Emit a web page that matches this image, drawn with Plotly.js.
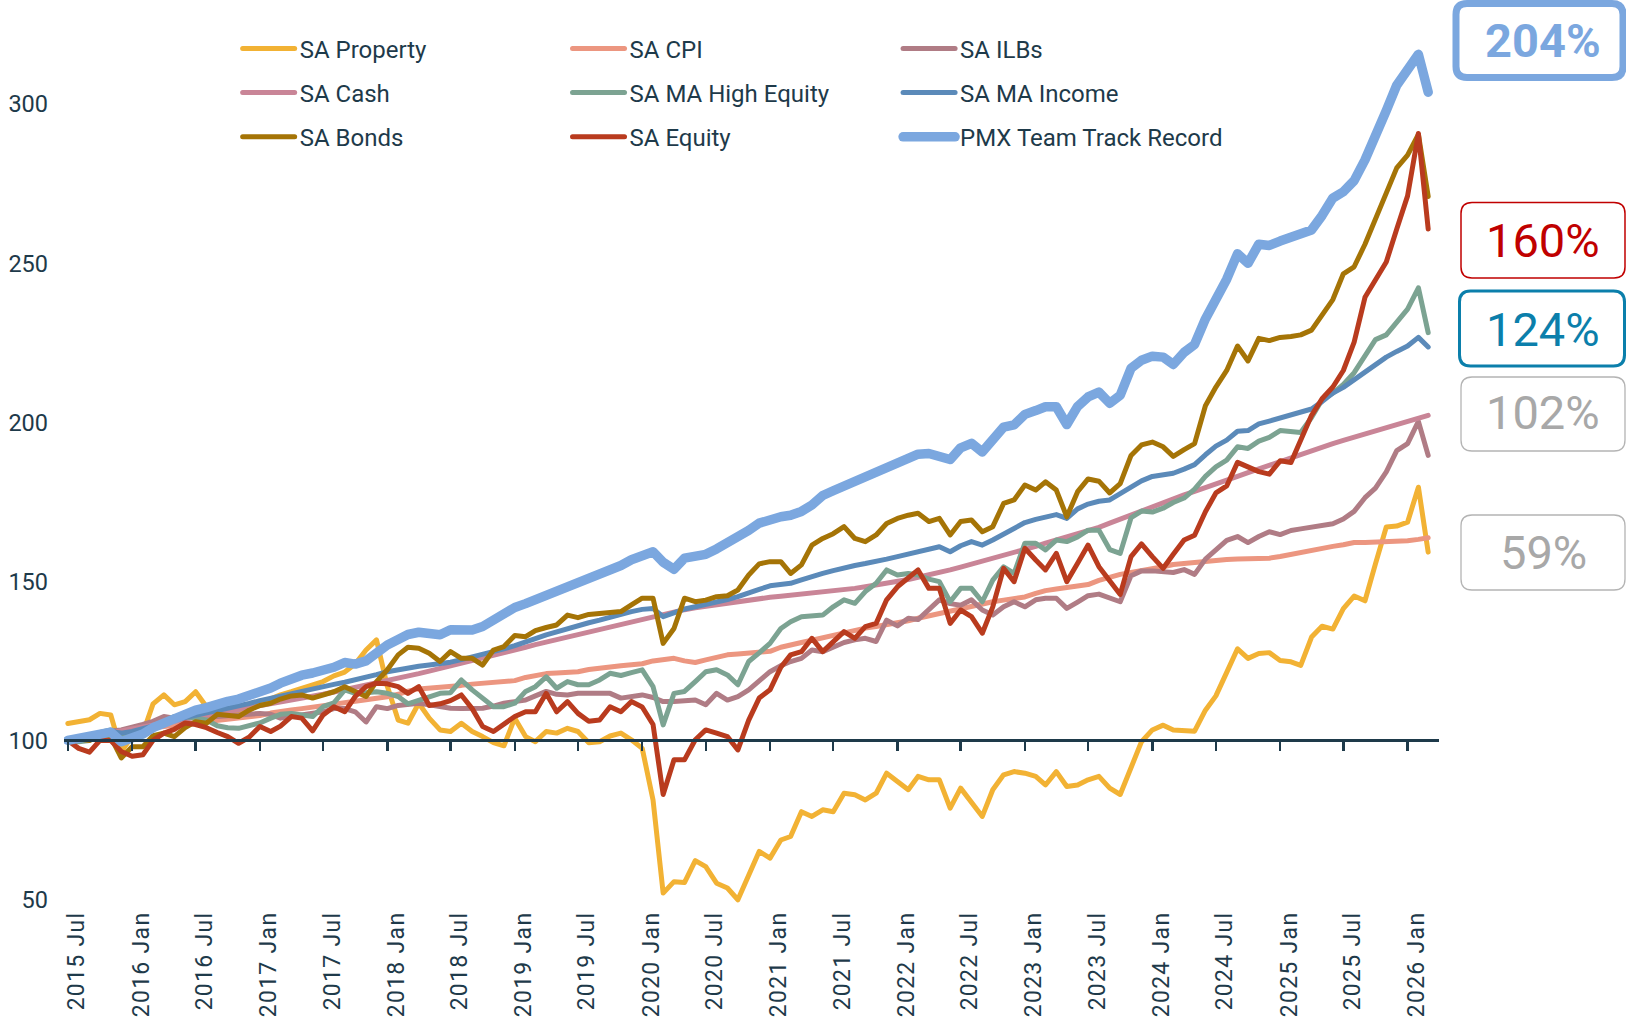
<!DOCTYPE html>
<html>
<head>
<meta charset="utf-8">
<script src="https://cdn.plot.ly/plotly-3.0.1.min.js"></script>
<style>
  html, body { margin: 0; padding: 0; background: #ffffff; }
  #chart { width: 1626px; height: 1017px; }
  .js-line { stroke-linejoin: round; stroke-linecap: round; }
  .xtick text, text.xtick { letter-spacing: 1.3px; }
</style>
</head>
<body>
<div id="chart"></div>
<script>
// ---- categories: monthly index points, 2015 Jul .. 2026 Mar ----
const START_YEAR = 2015, START_MONTH = 7, N_MONTHS = 129;
const months = [];
for (let k = 0; k < N_MONTHS; k++) {
  const m = START_MONTH - 1 + k;
  const y = START_YEAR + Math.floor(m / 12);
  const mm = (m % 12) + 1;
  months.push(y + '-' + String(mm).padStart(2, '0') + '-01');
}

// ---- series values (index, start = 100) ----
const saProperty = [
  105.3, 105.8, 106.5, 108.5, 108, 96.5, 101.2, 102.3, 111.5, 114.3, 111.2, 112.2,
  115.3, 110.6, 107.5, 108.2, 109, 110.3, 111.8, 113, 114.3, 115.3, 116.4, 117.4,
  118.5, 120.3, 121.5, 124, 128.4, 131.6, 117, 106.4, 105.4, 111.7, 107, 103.3,
  102.8, 105.4, 102.8, 101.2, 99.3, 98.3, 107, 101.2, 99.6, 102.8, 102.3, 103.8,
  102.8, 99.3, 99.6, 101.4, 102.3, 100.2, 97.5, 81.3, 52, 55.6, 55.3, 62.2,
  60.3, 55.1, 53.6, 49.9, 57.2, 65.1, 63, 68.7, 69.8, 77.6, 76.1, 78.2,
  77.6, 83.4, 82.9, 81.3, 83.4, 89.7, 87.1, 84.5, 88.7, 87.6, 87.6, 78.7,
  85, 80.8, 76.1, 84.5, 89.2, 90.2, 89.7, 88.7, 86, 90.2, 85.5, 86,
  87.6, 88.7, 85, 83, 91.7, 99.6, 103.3, 104.8, 103.3, 102.9, 102.9, 109.5,
  114, 121.4, 128.8, 125.8, 127.3, 127.6, 125.1, 124.7, 123.6, 132.5, 135.9, 135,
  141.4, 145.4, 143.9, 155.5, 167.1, 167.4, 168.6, 179.6, 159.2
];
const saCPI = [
  100, 100.5, 100.9, 101.3, 101.8, 102.2, 102.6, 103.4, 104, 104.4, 104.8, 105.1,
  105.5, 105.9, 106.4, 106.8, 107.1, 107.4, 107.8, 108.6, 109.2, 109.6, 110, 110.4,
  111, 111.4, 111.8, 112.3, 112.8, 113.2, 113.7, 114.5, 115.5, 116.2, 116.4, 116.6,
  116.8, 117.3, 117.7, 118, 118.3, 118.5, 118.8, 119.8, 120.5, 121, 121.2, 121.4,
  121.6, 122.3, 122.8, 123.2, 123.5, 123.8, 124.1, 125, 125.5, 125.8, 125, 124.5,
  125.3, 126.3, 126.9, 127.2, 127.5, 127.7, 128, 129.3, 130.2, 130.8, 131.5, 132.3,
  133, 134, 134.8, 135.3, 135.8, 136.3, 136.8, 137.6, 138.4, 139.2, 140, 140.8,
  141.5, 142.2, 143, 143.6, 144.1, 144.6, 145.1, 146.2, 147.1, 147.6, 148, 148.5,
  149, 150.3, 151.3, 152.2, 152.8, 153.3, 153.8, 154.6, 155.3, 155.7, 156, 156.3,
  156.5, 156.9, 157, 157, 157.1, 157.3, 157.8, 158.5, 159.2, 159.8, 160.5, 161,
  161.5, 162.2, 162.2, 162.3, 162.5, 162.6, 162.8, 163.2, 163.7
];
const saILBs = [
  100, 100.8, 101.5, 102.2, 103, 103.3, 104, 105, 106, 107.5, 107, 107.5,
  107.2, 107.8, 107.5, 107.7, 108, 108, 108.5, 108.2, 107, 107.5, 108, 108.2,
  109, 110, 110, 109, 105.8, 110.6, 110, 111, 111.5, 111.7, 111.2, 110.5,
  110.1, 110, 110, 110.1, 110.8, 111.7, 112.2, 112.7, 114, 115.4, 114.5, 114.3,
  114.8, 114.8, 114.6, 114.8, 113.3, 113.8, 114.3, 113.5, 112.2, 112.2, 112.5, 112.7,
  111.2, 114.8, 112.7, 113.8, 115.9, 118.5, 121.6, 123.5, 124.8, 125.8, 128.4, 127.9,
  129.5, 130.8, 131.6, 132.1, 131.1, 137.8, 136, 138.4, 138, 141, 144.2, 143,
  142.5, 144.2, 141, 139.4, 142, 143.6, 142, 144.2, 144.7, 144.7, 141.5, 143.5,
  145.5, 146, 144.8, 143.6, 151.8, 153.3, 153.3, 153, 152.8, 153.7, 152.2, 157,
  160, 162.9, 164.1, 162.2, 164.1, 165.6, 164.7, 166, 166.5, 167, 167.4, 168.1,
  169.6, 172, 176.3, 179.3, 184.4, 191.1, 193.3, 200.3, 189.6
];
const saCash = [
  100, 100.6, 101.2, 101.8, 102.4, 103, 103.6, 104.2, 104.8, 105.4, 106, 106.6,
  107.3, 107.9, 108.5, 109.1, 109.7, 110.3, 110.9, 111.5, 112.1, 112.7, 113.3, 113.9,
  114.5, 115.2, 115.9, 116.6, 117.3, 118, 118.8, 119.5, 120.2, 121, 121.8, 122.6,
  123.5, 124.3, 125.1, 125.9, 126.8, 127.6, 128.5, 129.3, 130.1, 130.9, 131.7, 132.5,
  133.3, 134.1, 134.9, 135.8, 136.6, 137.4, 138.2, 139, 139.8, 140.5, 141.1, 141.7,
  142.2, 142.7, 143.2, 143.7, 144.2, 144.6, 145, 145.3, 145.6, 145.9, 146.2, 146.6,
  147, 147.4, 147.8, 148.3, 148.8, 149.4, 150, 150.6, 151.3, 152, 152.7, 153.6,
  154.5, 155.4, 156.3, 157.2, 158.1, 159, 160, 161, 162, 163, 164, 164.9,
  165.8, 167, 168.3, 169.6, 170.9, 172.2, 173.5, 174.8, 176.1, 177.2, 178.3, 179.4,
  180.6, 181.8, 183, 184.2, 185.4, 186.6, 187.8, 188.9, 190, 191.1, 192.2, 193.3,
  194.3, 195.3, 196.3, 197.3, 198.3, 199.2, 200.2, 201.2, 202.2
];
const saMAHighEquity = [
  100, 99.6, 100, 102.5, 103.3, 101.7, 102, 102.3, 104.4, 106, 107.5, 107.5,
  107, 106.4, 104.6, 104, 103.8, 104.5, 105.5, 107, 108.2, 108.5, 108, 107.5,
  110.6, 111.8, 115.9, 114.8, 115, 115.3, 114.8, 113.8, 111.5, 112.7, 113.8, 114.8,
  115, 119, 115.9, 113.3, 110.6, 110.6, 111.7, 115.4, 116.9, 120, 116.4, 118.5,
  117.5, 117.5, 119, 121.1, 120.4, 121.3, 122.2, 116.9, 104.9, 114.8, 115.4, 118.5,
  121.6, 122.2, 120.6, 117.5, 124.8, 127.5, 130.5, 135.2, 137.3, 138.9, 139.2, 139.4,
  142, 144.2, 143.1, 146.8, 149.4, 153.6, 152, 152.5, 152, 150.7, 149.9, 143.6,
  147.8, 147.8, 143.6, 150.4, 154.6, 152.5, 162, 162, 159.9, 163, 162.5, 164,
  166.1, 166.1, 160, 158.8, 170, 172.1, 171.8, 173, 174.8, 176.2, 179, 183,
  186, 188.1, 192.3, 191.8, 194.1, 195.3, 197.4, 197.1, 196.8, 201.5, 207.1, 209.2,
  211.9, 215.6, 220.8, 226, 227.5, 231.2, 235.6, 242.3, 228.2
];
const saMAIncome = [
  100, 100.8, 101.5, 102.2, 102.7, 102.3, 102.8, 103.6, 104.5, 105.4, 106.3, 107.2,
  107.9, 108.6, 109.1, 109.9, 110.8, 111.6, 112.5, 113.3, 114, 114.8, 115.4, 116.2,
  116.8, 117.6, 118.3, 119, 119.8, 120.7, 121.6, 122.3, 123, 123.3, 123.7, 124.1,
  124.6, 125.4, 126.2, 127, 127.9, 128.8, 129.8, 130.8, 132, 133.2, 134.2, 135.1,
  136.2, 137, 137.8, 138.8, 139.8, 140.5, 141.2, 141.5, 138.9, 140.3, 141.3, 142,
  142.7, 143.3, 144.3, 145.2, 146.5, 147.5, 148.6, 149, 149.4, 150.5, 151.6, 152.5,
  153.4, 154.4, 155, 155.6, 156.2, 157, 157.8, 158.6, 159.3, 160, 160.9, 159.3,
  161.2, 162.5, 161.4, 163, 165, 166.8, 168.5, 169.5, 170.2, 171, 169.8, 172.8,
  174.3, 175.2, 175.6, 177.5, 179.5, 181.6, 183, 183.7, 184, 185.3, 186.7, 189.8,
  192.5, 194.4, 197.2, 197.4, 199.5, 200.4, 201.3, 202.3, 203.2, 204.2, 206.5, 209.2,
  211, 213.4, 215.6, 218.2, 220.5, 222.3, 224, 226.7, 223.7
];
const saBonds = [
  100, 100.5, 100, 101.5, 101, 94.5, 98, 98, 101.5, 102.3, 101.2, 104,
  105.9, 105.4, 108.2, 108, 107.5, 109.5, 111, 111.7, 113, 114, 114.3, 113.3,
  114.3, 115.3, 116.9, 115.3, 113.8, 118.5, 122.2, 126.9, 129.3, 129, 127.4, 124.8,
  127.9, 125.8, 125.8, 123.7, 128.4, 129.5, 133, 132.6, 134.5, 135.5, 136.3, 139.4,
  138.6, 139.6, 140, 140, 140.5, 142.6, 144.7, 144.7, 130.5, 135.2, 144.7, 143.6,
  144.1, 145.2, 145.5, 147.3, 152, 155.5, 156.2, 156.2, 152.5, 155.2, 161.4, 163.5,
  165, 167.2, 163.5, 162.5, 164.6, 168.2, 169.8, 170.8, 171.4, 168.8, 169.8, 164.6,
  168.8, 169.3, 165.6, 167.2, 174.5, 175.6, 180.3, 178.7, 181.3, 178.7, 170.3, 178.2,
  182.2, 181.5, 177.8, 180.7, 189.6, 192.9, 193.8, 192.3, 189.3, 191.4, 193.3, 205.2,
  211.1, 216.3, 224, 219.3, 226.4, 225.7, 226.7, 227, 227.5, 229, 234, 238.6,
  246.7, 248.9, 256, 263.8, 272.7, 280, 284, 290.5, 271
];
const saEquity = [
  100, 97.5, 96.3, 100, 100, 96.5, 95, 95.5, 100, 102.3, 103.5, 105.5,
  105, 104, 102.5, 101.2, 99.1, 101, 104.4, 102.8, 104.5, 107.5, 107, 103,
  108, 110.6, 109, 113.8, 116.9, 118, 117.8, 116.9, 114.8, 116.9, 111, 111.5,
  112.5, 114.3, 110, 104.4, 102.8, 104.9, 107.5, 109, 109, 114.8, 109, 112.2,
  108.5, 106, 106.4, 110.6, 109, 112.2, 110.5, 105, 83, 93.9, 93.9, 100.2,
  103.3, 102.3, 101.2, 97, 106.4, 113.3, 115.9, 123, 126.9, 127.9, 132.1, 127.9,
  131.1, 134.2, 132.1, 135.8, 136.8, 144.2, 148.3, 151, 153.6, 147.8, 147.8, 136.8,
  141, 138.9, 133.7, 142, 154.1, 149.9, 160.4, 156.7, 153.6, 158.8, 149.9, 155.7,
  161.4, 154.6, 150, 145.9, 157.8, 161.8, 157.8, 154.1, 158.5, 163, 164.5, 171.9,
  177.8, 180, 187.4, 185.9, 184.5, 183.7, 187.9, 187.4, 194.1, 202.2, 207.4, 211.1,
  216.3, 225.2, 239.3, 244.5, 250.4, 260.8, 271.2, 290.8, 260.8
];
const pmxTrackRecord = [
  100, 100.6, 101, 102, 102.6, 99.6, 100.8, 102, 104, 105.5, 106.4, 108,
  109.5, 110.3, 111.5, 112.3, 113, 114, 115.2, 116.5, 118, 119.5, 120.5, 121.2,
  121.8, 123, 124.5, 124, 125, 127.5, 130, 131.7, 133.3, 134, 133.5, 133.2,
  134.8, 135, 134.7, 135.8, 138, 140, 141.8, 143, 144.2, 145.5, 146.8, 148.5,
  149.8, 151, 152.5, 153.5, 155, 156.8, 158.2, 159.3, 156, 153.8, 157.3, 157.8,
  158.5, 160.2, 162, 163.5, 166, 168.3, 169.5, 170.3, 170.8, 172, 174, 177,
  178.5, 180, 181, 182.3, 184, 185.7, 187, 188.5, 190, 190.2, 189.5, 188.3,
  192, 193.4, 190.7, 194.5, 198.5, 199.2, 202.5, 203.7, 204.9, 204.9, 199.3, 205,
  208, 209.5, 206, 208.5, 217, 219.5, 220.8, 220.5, 218.2, 222, 224.5, 232.5,
  238.6, 245, 253, 250, 256, 255.6, 257, 258.3, 259, 260.5, 265, 270.5,
  272.5, 276, 282.5, 289.5, 298, 306, 310.5, 315.7, 303.8
];

// ---- labels ----
const seriesNames = ['SA Property', 'SA CPI', 'SA ILBs', 'SA Cash', 'SA MA High Equity',
                     'SA MA Income', 'SA Bonds', 'SA Equity', 'PMX Team Track Record'];
const seriesValues = [saProperty, saCPI, saILBs, saCash, saMAHighEquity,
                      saMAIncome, saBonds, saEquity, pmxTrackRecord];
const yTickValues = [50, 100, 150, 200, 250, 300];
const returnLabels = ['204%', '160%', '124%', '102%', '59%'];

// ---- styles ----
const colors = ['#F2B234', '#EC9680', '#B07C85', '#C98597', '#7CA392',
                '#5B8AB9', '#A57406', '#B93B1E', '#7BA7DF'];
const widths = [5, 5, 5, 5, 5, 5, 5, 5, 9.5];
const legendIds = ['legend', 'legend2', 'legend3', 'legend', 'legend2',
                   'legend3', 'legend', 'legend2', 'legend3'];
const TXT = '#1E3A4A';

const traces = seriesNames.map((name, k) => ({
  type: 'scatter', mode: 'lines', name: name,
  x: months, y: seriesValues[k],
  xaxis: k === seriesNames.length - 1 ? 'x2' : 'x',
  yaxis: 'y',
  line: { color: colors[k], width: widths[k] },
  legend: legendIds[k], legendgroup: 'g' + k,
  hoverinfo: 'skip'
}));

// ---- geometry helpers (pixel -> paper) ----
const W = 1626, H = 1017, ML = 64, MR = 187, MT = 47, MB = 108;
const PW = W - ML - MR, PH = H - MT - MB;
const px = v => (v - ML) / PW;
const py = v => (MT + PH - v) / PH;
function roundRect(x0, y0, x1, y1, r) {
  const P = (a, b) => px(a).toFixed(5) + ',' + py(b).toFixed(5);
  return 'M' + P(x0 + r, y0) + ' L' + P(x1 - r, y0) + ' Q' + P(x1, y0) + ' ' + P(x1, y0 + r) +
         ' L' + P(x1, y1 - r) + ' Q' + P(x1, y1) + ' ' + P(x1 - r, y1) +
         ' L' + P(x0 + r, y1) + ' Q' + P(x0, y1) + ' ' + P(x0, y1 - r) +
         ' L' + P(x0, y0 + r) + ' Q' + P(x0, y0) + ' ' + P(x0 + r, y0) + ' Z';
}
const boxes = [
  { r: [1456, 3.5, 1623, 77.5], lw: 7, c: '#7BA7DF', tc: '#7BA7DF', bold: true, ty: 40 },
  { r: [1461, 202.5, 1625, 278], lw: 1.5, c: '#C00000', tc: '#C00000', bold: false, ty: 241 },
  { r: [1459.5, 291, 1624.5, 366], lw: 3, c: '#0B7FAB', tc: '#0B7FAB', bold: false, ty: 329 },
  { r: [1461, 377, 1625, 451], lw: 1.3, c: '#B4B4B4', tc: '#A8A8A8', bold: false, ty: 412 },
  { r: [1461, 515, 1625, 590], lw: 1.3, c: '#B4B4B4', tc: '#A8A8A8', bold: false, ty: 552 }
];
const shapes = boxes.map(b => ({
  type: 'path', xref: 'paper', yref: 'paper',
  path: roundRect(b.r[0], b.r[1], b.r[2], b.r[3], 11),
  line: { color: b.c, width: b.lw }, fillcolor: 'rgba(255,255,255,0)'
}));
const annotations = boxes.map((b, k) => ({
  xref: 'paper', yref: 'paper', x: px(1543), y: py(b.ty),
  xanchor: 'center', yanchor: 'middle', showarrow: false,
  text: b.bold ? '<b>' + returnLabels[k] + '</b>' : returnLabels[k],
  font: { family: 'Roboto', size: 47, color: b.tc }
}));

const legendBase = {
  orientation: 'v', bgcolor: 'rgba(0,0,0,0)', borderwidth: 0,
  font: { family: 'Roboto', size: 24, color: TXT },
  itemwidth: 52, traceorder: 'grouped', tracegroupgap: 10,
  xanchor: 'left', yanchor: 'top', y: 1.024
};

const X_RANGE = ['2015-06-20', '2026-04-01'];
const layout = {
  width: W, height: H,
  margin: { l: ML, r: MR, t: MT, b: MB, pad: 0 },
  paper_bgcolor: '#ffffff', plot_bgcolor: '#ffffff',
  font: { family: 'Roboto', color: TXT },
  showlegend: true,
  hovermode: false,
  xaxis: {
    type: 'date', range: X_RANGE,
    tick0: '2015-07-01', dtick: 'M6', tickformat: '%Y %b',
    tickangle: -90, ticks: '', showline: false, showgrid: false, zeroline: false,
    ticklabelstandoff: -3, ticklabelshift: 9,
    tickfont: { family: 'Roboto', size: 23, color: TXT }
  },
  xaxis2: {
    type: 'date', range: X_RANGE, overlaying: 'x', anchor: 'free',
    position: (100 - 47) / (318 - 47),
    tick0: '2015-07-01', dtick: 'M6',
    showticklabels: false, showgrid: false, zeroline: false,
    showline: true, linecolor: TXT, linewidth: 2.5,
    ticks: 'outside', ticklen: 9, tickwidth: 2.5, tickcolor: TXT
  },
  yaxis: {
    range: [47, 318], tickvals: yTickValues, ticks: '',
    showline: false, showgrid: false, zeroline: false,
    ticklabelstandoff: 15,
    tickfont: { family: 'Roboto', size: 23.5, color: TXT }
  },
  legend: Object.assign({}, legendBase, { x: 0.1263 }),
  legend2: Object.assign({}, legendBase, { x: 0.3662 }),
  legend3: Object.assign({}, legendBase, { x: 0.6066 }),
  shapes: shapes,
  annotations: annotations
};

Plotly.newPlot('chart', traces, layout, { staticPlot: true, displayModeBar: false });
</script>
</body>
</html>
